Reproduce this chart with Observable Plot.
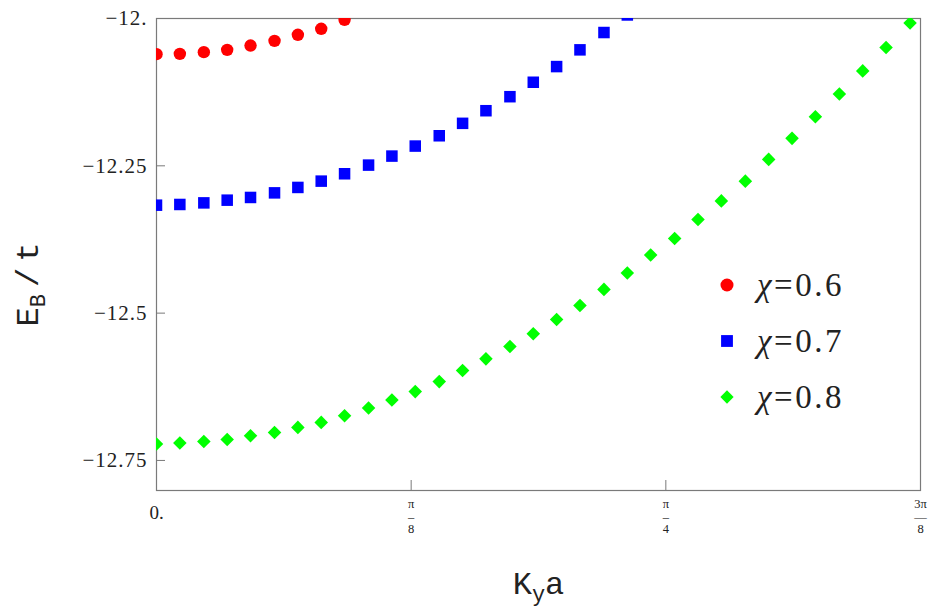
<!DOCTYPE html>
<html><head><meta charset="utf-8">
<script src="https://cdn.jsdelivr.net/npm/d3@7"></script>
<script src="https://cdn.jsdelivr.net/npm/@observablehq/plot@0.6"></script>
<style>
body{margin:0;background:#fff;}
#wrap{position:relative;width:935px;height:612px;}
#legend{position:absolute;left:712px;top:257px;font-family:"Liberation Serif",serif;font-size:33px;letter-spacing:2.5px;color:#222;}
#legend .item{display:flex;align-items:center;height:56px;}
#legend .item svg{width:30px;height:30px;margin-right:15px;}
#legend i{font-style:italic;}
</style>
</head><body><div id="wrap"></div>
<script>
const kya = [0, 0.036, 0.073, 0.109, 0.145, 0.182, 0.218, 0.254, 0.290, 0.327, 0.363, 0.399, 0.436, 0.472, 0.508, 0.545, 0.581, 0.617, 0.653, 0.690, 0.726, 0.762, 0.799, 0.835, 0.871, 0.908, 0.944, 0.980, 1.016, 1.053, 1.089, 1.125, 1.162];
const chi06 = [-12.0605, -12.0600, -12.0571, -12.0532, -12.0459, -12.0379, -12.0277, -12.0175, -12.0022];
const chi07 = [-12.3168, -12.3156, -12.3129, -12.3083, -12.3037, -12.2959, -12.2867, -12.2760, -12.2635, -12.2488, -12.2335, -12.2165, -12.1990, -12.1779, -12.1565, -12.1327, -12.1082, -12.0816, -12.0532, -12.0238, -11.9940];
const chi08 = [-12.7221, -12.7204, -12.7177, -12.7143, -12.7080, -12.7024, -12.6939, -12.6854, -12.6740, -12.6609, -12.6473, -12.6332, -12.6162, -12.5975, -12.5776, -12.5566, -12.5350, -12.5107, -12.4869, -12.4597, -12.4320, -12.4014, -12.3735, -12.3412, -12.3095, -12.2760, -12.2391, -12.2034, -12.1667, -12.1281, -12.0889, -12.0493, -12.0078];
const seriesNames = ["0.6", "0.7", "0.8"];
const seriesColors = ["#ff0000", "#0000ff", "#00ff00"];
const seriesSymbols = ["circle", "square", "diamond2"];
const yTicks = [-12, -12.25, -12.5, -12.75];
const yTickLabels = ["\u221212.", "\u221212.25", "\u221212.5", "\u221212.75"];
const xTicks = [0, Math.PI / 8, Math.PI / 4, 3 * Math.PI / 8];
const xTickLabels = ["0.", "\u03c0\n\u2013\n8", "\u03c0\n\u2013\n4", "3\u03c0\n\u2014\n8"];

const seriesValues = [chi06, chi07, chi08];
const radii = [6.2, 6.5, 6.1];
const rows = (vals, s) => vals.map((e, i) => ({k: kya[i], e, s}));
const gray = "#7a7a7a";

const plot = Plot.plot({
  width: 935, height: 612,
  marginLeft: 156, marginRight: 15, marginTop: 18, marginBottom: 122,
  style: {fontFamily: "'Liberation Serif', serif", fontSize: "20px", color: "#222", background: "#fff", overflow: "visible"},
  x: {domain: [0, 3 * Math.PI / 8]},
  y: {domain: [-12.801, -12]},
  marks: [
    Plot.frame({stroke: gray, strokeWidth: 1.2}),
    Plot.axisY({ticks: yTicks, tickSize: 9, dx: 9, tickFormat: () => "", stroke: gray, label: null}),
    Plot.axisY({ticks: yTicks, tickSize: 0, tickPadding: 9, tickFormat: d => yTickLabels[yTicks.indexOf(d)], label: null, fontSize: 21, fill: "#222"}),
    Plot.axisX({ticks: xTicks, tickSize: 10, dy: -10, tickFormat: () => "", stroke: gray, label: null}),
    Plot.text(xTicks.slice(0, 1), {x: d => d, text: d => xTickLabels[xTicks.indexOf(d)], frameAnchor: "bottom", dy: 22, lineAnchor: "middle", fontSize: 19, fill: "#222"}),
    Plot.text(xTicks.slice(1), {x: d => d, text: d => xTickLabels[xTicks.indexOf(d)], frameAnchor: "bottom", dy: 26, lineAnchor: "middle", fontSize: 12.5, lineHeight: 1.02, fill: "#222"}),
    ...seriesValues.map((vals, j) => Plot.dot(rows(vals, seriesNames[j]), {
      x: "k", y: "e", fill: seriesColors[j], symbol: seriesSymbols[j], r: radii[j], clip: true
    })),
    Plot.text(["Kya"], {frameAnchor: "bottom", dy: 93, lineAnchor: "middle", fontFamily: "'Liberation Mono', monospace", fontSize: 32, fill: "#222"}),
    Plot.text(["E/t"], {frameAnchor: "left", dx: -129, dy: 30, rotate: -90, textAnchor: "middle", lineAnchor: "middle", fontFamily: "'Liberation Mono', monospace", fontSize: 32, fill: "#222"})
  ]
});

// y tick labels slightly wider, like the reference
d3.select(plot).selectAll("text").filter(function () { return yTickLabels.includes(this.textContent); }).attr("letter-spacing", 1);

// subscripts in axis titles
const pick = s => d3.select(plot).selectAll("text").filter(function () { return this.textContent === s; });
const xt = pick("Kya");
xt.text(null);
xt.append("tspan").text("K");
xt.append("tspan").attr("dy", 7).attr("font-size", 22).text("y");
xt.append("tspan").attr("dy", -7).text("a");

const yt = pick("E/t");
yt.text(null);
yt.append("tspan").text("E");
yt.append("tspan").attr("dy", 7).attr("font-size", 22).text("B");
yt.append("tspan").attr("dy", -7).attr("dx", 7).text("/");
yt.append("tspan").attr("dx", 6).text("t");

const wrap = document.getElementById("wrap");
wrap.appendChild(plot);

// legend
const legend = document.createElement("div");
legend.id = "legend";
const symSizes = [133, 140, 112];
const d3Syms = [d3.symbolCircle, d3.symbolSquare, d3.symbolDiamond2];
seriesNames.forEach((name, j) => {
  const item = document.createElement("div");
  item.className = "item";
  const path = d3.symbol(d3Syms[j], symSizes[j])();
  item.innerHTML = `<svg viewBox="-15 -15 30 30"><path d="${path}" fill="${seriesColors[j]}"/></svg><span><i>\u03c7</i>=${name}</span>`;
  legend.appendChild(item);
});
wrap.appendChild(legend);
</script>
</body></html>
